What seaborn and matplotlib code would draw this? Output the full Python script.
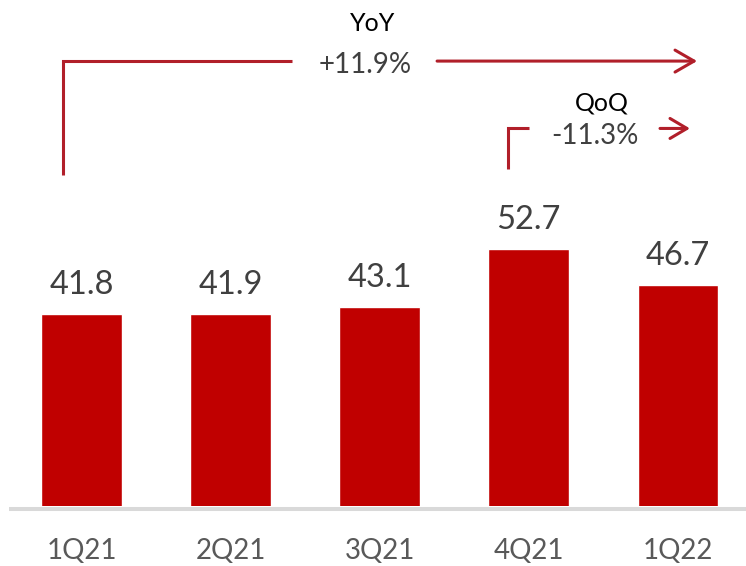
import matplotlib
matplotlib.use("Agg")
import matplotlib.pyplot as plt
import seaborn as sns
import pandas as pd

# Quarterly figures
quarters = ["1Q21", "2Q21", "3Q21", "4Q21", "1Q22"]
values = [41.8, 41.9, 43.1, 52.7, 46.7]
yoy_label = "+11.9%"
qoq_label = "-11.3%"

df = pd.DataFrame({"quarter": quarters, "value": values})

sns.set_theme(style="white")
plt.rcParams["font.family"] = ["Lato", "DejaVu Sans"]

BAR = "#C00000"
LINE = "#B11F2A"
VAL = "#404040"
TICK = "#595959"

fig = plt.figure(figsize=(7.46, 5.66), dpi=100)
ax = fig.add_axes([0, 60 / 566, 1, 506 / 566])

sns.barplot(data=df, x="quarter", y="value", color=BAR, saturation=1,
            width=0.54, errorbar=None, ax=ax)

ax.set_xlim(-0.548, 4.458)
ax.set_ylim(9.8, 94.3)

for s in ax.spines.values():
    s.set_visible(False)
ax.set_yticks([])
ax.set_xlabel("")
ax.set_ylabel("")
ax.tick_params(axis="x", length=0, pad=23, labelsize=20, labelcolor=TICK)

# value labels on top of bars
ax.bar_label(ax.containers[0], labels=[f"{v:.1f}" for v in values],
             padding=10, fontsize=23.5, color=VAL)

# light grey base line
ax.plot([-0.49, 4.458], [9.3, 9.3], color="#D9D9D9", lw=2.9,
        solid_capstyle="butt", clip_on=False, zorder=1)

# YoY bracket and arrow
lw = 2.2
ax.plot([-0.122, -0.122, 1.411], [65.05, 84.1, 84.1], color=LINE, lw=lw,
        solid_capstyle="butt", solid_joinstyle="miter", clip_on=False)
ax.annotate("", xy=(4.13, 84.1), xytext=(2.385, 84.1),
            arrowprops=dict(arrowstyle="->,head_length=1.37,head_width=0.79",
                            color=LINE, lw=lw, mutation_scale=10,
                            shrinkA=0, shrinkB=0),
            annotation_clip=False)
ax.text(1.95, 89.15, "YoY", ha="center", va="baseline", fontsize=18,
        color="black")
ax.text(1.90, 82.08, yoy_label, ha="center", va="baseline", fontsize=20,
        color=VAL)

# QoQ bracket and arrow
ax.plot([2.858, 2.858, 3.002], [66.06, 72.95, 72.95], color=LINE, lw=lw,
        solid_capstyle="butt", solid_joinstyle="miter", clip_on=False)
ax.annotate("", xy=(4.082, 72.85), xytext=(3.881, 72.85),
            arrowprops=dict(arrowstyle="->,head_length=1.22,head_width=0.72",
                            color=LINE, lw=lw, mutation_scale=10,
                            shrinkA=0, shrinkB=0),
            annotation_clip=False)
ax.text(3.492, 75.91, "QoQ", ha="center", va="baseline", fontsize=18,
        color="black")
ax.text(3.442, 70.23, qoq_label, ha="center", va="baseline", fontsize=20,
        color=VAL)

fig.savefig("out.png", dpi=100)
